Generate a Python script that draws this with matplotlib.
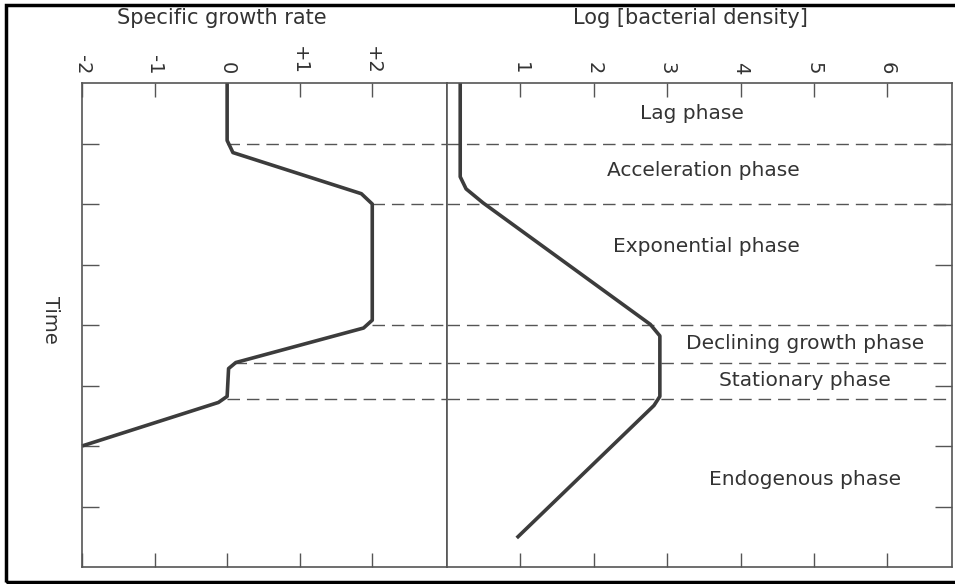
import matplotlib
matplotlib.use("Agg")
import matplotlib.pyplot as plt
from matplotlib.patches import Rectangle

# time axis runs downward, 0 at the top
growth_t = [0, 0.95, 1.15, 1.83, 2.0, 3.92, 4.05, 4.62, 4.72, 5.18, 5.28, 6.0]
growth_rate = [0, 0, 0.08, 1.85, 2.0, 2.0, 1.88, 0.12, 0.02, 0.0, -0.12, -2.0]

density_t = [0, 1.55, 1.75, 1.98, 3.99, 4.18, 5.18, 5.33, 7.52]
log_density = [0.18, 0.18, 0.26, 0.49, 2.77, 2.9, 2.9, 2.82, 0.95]

# phase boundaries (dashed lines)
boundaries = [1, 2, 4, 4.62, 5.22]
# where each dashed line starts on the growth-rate panel
boundary_start = [0, 2.0, 2.0, 0.1, 0]

phases = ["Lag phase", "Acceleration phase", "Exponential phase",
          "Declining growth phase", "Stationary phase", "Endogenous phase"]
phase_x = [3.34, 3.49, 3.53, 4.88, 4.88, 4.88]
phase_t = [0.5, 1.44, 2.71, 4.31, 4.91, 6.56]

growth_ticks = [-2, -1, 0, 1, 2]
growth_labels = ["-2", "-1", "0", "+1", "+2"]
density_ticks = [1, 2, 3, 4, 5, 6]
time_ticks = [1, 2, 3, 4, 5, 6, 7]

W, H = 955, 584
fig = plt.figure(figsize=(W / 100, H / 100), dpi=100)
plt.rcParams["font.family"] = ["DejaVu Sans"]

spine_c = "#555555"
curve_c = "#3c3c3c"
text_c = "#333333"

def px(x0, y0, x1, y1):
    return [x0 / W, 1 - y1 / H, (x1 - x0) / W, (y1 - y0) / H]

ax1 = fig.add_axes(px(82, 83, 447, 567))
ax2 = fig.add_axes(px(447, 83, 952, 567))

for ax in (ax1, ax2):
    ax.set_ylim(8, 0)
    for s in ax.spines.values():
        s.set_color(spine_c)
        s.set_linewidth(1.2)
    ax.set_yticks(time_ticks)
    ax.set_yticklabels([])
    ax.tick_params(axis="x", direction="in", length=10, width=1, color=spine_c,
                   top=True, bottom=True, labeltop=True, labelbottom=False,
                   labelsize=14, labelcolor=text_c, pad=6, labelrotation=270)
    ax.tick_params(axis="y", direction="in", length=12, width=1, color=spine_c)

ax1.set_xlim(-2, 3.03)
ax1.set_xticks(growth_ticks)
ax1.set_xticklabels(growth_labels)
ax1.tick_params(axis="y", left=True, right=False)

ax2.set_xlim(0, 6.88)
ax2.set_xticks(density_ticks)
ax2.set_xticklabels([str(v) for v in density_ticks])
ax2.tick_params(axis="y", left=False, right=True)

dash = dict(color="#555555", lw=1, dashes=(9, 5))
for b, s in zip(boundaries, boundary_start):
    ax1.plot([s, 3.03], [b, b], **dash)
    ax2.plot([0, 6.88], [b, b], **dash)

ax1.plot(growth_rate, growth_t, color=curve_c, lw=2.6, solid_joinstyle="round",
         solid_capstyle="butt", clip_on=False)
ax2.plot(log_density, density_t, color=curve_c, lw=2.6, solid_joinstyle="round",
         solid_capstyle="butt")

for name, x, t in zip(phases, phase_x, phase_t):
    ax2.text(x, t, name, ha="center", va="center", fontsize=14.5, color=text_c)

fig.text(222 / W, 1 - 18 / H, "Specific growth rate", ha="center", va="center",
         fontsize=15, color=text_c)
fig.text(690 / W, 1 - 18 / H, "Log [bacterial density]", ha="center", va="center",
         fontsize=15, color=text_c)
fig.text(50 / W, 1 - 320 / H, "Time", rotation=270, ha="center", va="center",
         fontsize=14, color=text_c)

# scanned page border
fig.add_artist(Rectangle((6 / W, 2 / H), 1.0, (H - 7) / H, transform=fig.transFigure,
                         fill=False, ec="black", lw=2.5, clip_on=False))

fig.savefig("out.png", dpi=100)
